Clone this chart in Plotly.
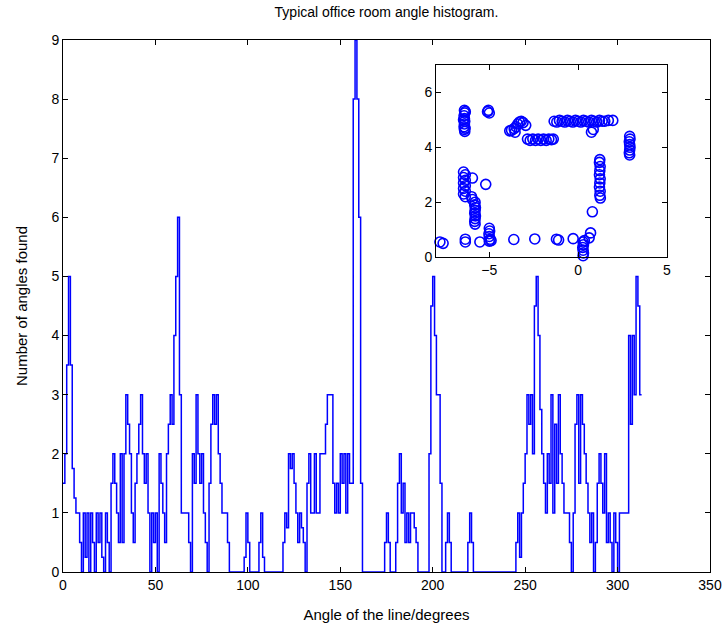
import numpy as np
import plotly.graph_objects as go

# Histogram counts, one value per 1-degree bin starting at 0 degrees
counts = [
    1.5, 2, 3.5, 5, 3.5, 1.75, 1.25, 1, 1, 0.5,
    0, 1, 0.25, 1, 0, 1, 0.5, 0, 1, 0.5,
    1, 0.25, 0, 1, 0.5, 0, 1.5, 2, 1.5, 1,
    0.5, 2, 0.5, 2, 3, 2.5, 2, 1, 0.5, 1.5,
    2, 2.5, 3, 2, 1.5, 2, 1, 0, 1, 0.5,
    1, 0, 2, 1.5, 1, 0.5, 2, 2.5, 3, 2.5,
    4, 5, 6, 3, 1, 1, 1, 1, 0.5, 0,
    2, 1.5, 3, 2, 1.5, 2, 1, 0.5, 0, 1.5,
    2.5, 3, 2.5, 3, 2, 1.5, 1, 1, 1, 0.5,
    0, 0, 0, 0, 0, 0, 0, 0, 0.25, 1,
    0.5, 0, 0, 0, 0, 0, 0.5, 1, 0.25, 0,
    0, 0, 0, 0, 0, 0, 0, 0, 0, 0.5,
    1, 0.75, 2, 1.75, 2, 1.5, 1, 0.5, 1, 0.75,
    0.5, 0, 1.5, 2, 1, 1, 2, 1, 1, 2,
    2, 2, 2.5, 3, 3, 3, 1.5, 1, 1.5, 1,
    2, 1.5, 2, 1, 2, 1.5, 1.5, 8, 9, 8,
    6, 1.5, 0, 0, 0, 0, 0, 0, 0, 0,
    0, 0, 0, 0, 0.5, 1, 0.5, 0, 0, 0,
    0.5, 1.5, 2, 1, 1.5, 0.5, 1, 0.5, 1, 1,
    0.75, 0.5, 0, 0, 0, 0, 0, 0, 2, 4.5,
    5, 4, 3, 3, 1.5, 0, 0, 0.5, 1, 0.5,
    0, 0, 0, 0, 0, 0, 0, 0, 0, 0.5,
    1, 0.5, 0, 0, 0, 0, 0, 0, 0, 0,
    0, 0, 0, 0, 0, 0, 0, 0, 0, 0,
    0, 0, 0, 0, 0, 0.5, 1, 0.25, 1, 1.5,
    2, 3, 2.5, 3, 2, 4.5, 5, 4, 2.75, 2,
    1.5, 1, 2, 1.5, 3, 1, 2.5, 1.5, 3, 2,
    1.5, 1, 1, 1, 0.5, 0, 1, 2.5, 3, 1.5,
    3, 2.5, 2, 1.5, 1, 0.5, 1, 0, 0.5, 1.5,
    2, 1.5, 1, 2, 0.5, 1, 0.5, 0, 1, 0.5,
    0, 1, 1, 1, 1, 1, 4, 2.5, 4, 3,
    5, 4.5, 3,
]

# Inset scatter: detected line points (x, y)
inset_x = [
    -6.4, -6.38, -6.42, -6.4, -6.38, -6.4, -6.42, -6.4, -6.38, -6.35, -6.45, -6.36,
    -5.1, -5.0, -5.05,
    -3.85, -3.75, -3.6, -3.5, -3.4, -3.3, -3.2, -3.1, -2.95, -3.55,
    -2.85, -2.7, -2.55, -2.4, -2.25, -2.1, -1.95, -1.8, -1.65, -1.5, -1.4,
    -1.35, -1.2, -1.05, -0.9, -0.75, -0.6, -0.45, -0.3, -0.15, 0.0, 0.15, 0.3, 0.45,
    0.6, 0.75, 0.9, 1.05, 1.2, 1.35, 1.5, 0.75, 0.85, 1.7, 1.95,
    2.9, 2.92, 2.88, 2.9, 2.92, 2.9, 2.88, 2.9,
    1.22, 1.2, 1.24, 1.22, 1.2, 1.24, 1.22, 1.2, 1.24, 1.22, 1.25,
    0.8, 0.7, 0.62,
    0.28, 0.3, 0.26, 0.28, 0.3, 0.28, 0.35,
    -0.28, -1.22, -1.1, -2.44, -3.62,
    -5.0, -4.98, -5.02, -5.0, -4.95, -5.0, -4.9,
    -5.53, -6.35, -6.35, -7.78, -7.6,
    -6.45, -6.35, -6.45, -6.35, -6.45, -6.35, -6.45, -6.35, -6.45, -6.35,
    -5.95, -5.2,
    -5.8, -5.82, -5.78, -5.8, -5.82, -5.78, -5.8, -5.82, -5.8, -5.95, -6.0,
]
inset_y = [
    5.35, 5.25, 5.15, 5.05, 4.95, 4.85, 4.75, 4.65, 4.58, 5.3, 5.0, 4.7,
    5.3, 5.25, 5.35,
    4.6, 4.62, 4.68, 4.75, 4.85, 4.92, 4.95, 4.9, 4.8, 4.55,
    4.3, 4.25, 4.3, 4.25, 4.3, 4.25, 4.3, 4.25, 4.3, 4.28, 4.3,
    4.95, 4.92, 4.98, 4.95, 4.92, 4.98, 4.95, 4.92, 4.98, 4.95, 4.92, 4.98, 4.95,
    4.92, 4.98, 4.95, 4.92, 4.98, 4.95, 4.95, 4.55, 4.65, 4.98, 4.98,
    4.4, 4.3, 4.2, 4.1, 4.0, 3.9, 3.8, 3.72,
    3.55, 3.45, 3.3, 3.15, 3.0, 2.85, 2.7, 2.55, 2.4, 2.25, 2.15,
    1.65, 0.88, 0.7,
    0.55, 0.45, 0.35, 0.25, 0.15, 0.05, 0.6,
    0.67, 0.65, 0.62, 0.66, 0.64,
    1.05, 0.95, 0.85, 0.75, 0.65, 0.58, 0.6,
    0.55, 0.55, 0.65, 0.55, 0.5,
    3.1, 3.0, 2.9, 2.8, 2.7, 2.6, 2.5, 2.4, 2.3, 2.2,
    2.88, 2.65,
    2.0, 1.9, 1.8, 1.7, 1.6, 1.5, 1.4, 1.3, 1.2, 2.1, 2.2,
]

x_ticks = [0, 50, 100, 150, 200, 250, 300, 350]
y_ticks = list(range(0, 10))
inset_xticks = [-5, 0, 5]
inset_yticks = [0, 2, 4, 6]

edges = np.arange(len(counts) + 1)
yvals = counts + [counts[-1]]

FONT = "Arial, Liberation Sans, sans-serif"
BLUE = "#0000ff"

fig = go.Figure()
fig.add_trace(go.Scatter(
    x=edges, y=yvals, mode="lines", line=dict(color=BLUE, width=1.5, shape="hv"),
    xaxis="x", yaxis="y", showlegend=False, hoverinfo="skip"))
fig.add_trace(go.Scatter(
    x=inset_x, y=inset_y, mode="markers",
    marker=dict(symbol="circle-open", size=10, color=BLUE, line=dict(width=1.6, color=BLUE)),
    xaxis="x2", yaxis="y2", showlegend=False, cliponaxis=False))

axis_common = dict(showgrid=False, zeroline=False, showline=True, linecolor="black",
                   linewidth=1, mirror="ticks", ticks="inside", ticklen=5,
                   tickcolor="black", automargin=False,
                   tickfont=dict(family=FONT, size=14, color="black"))

fig.update_layout(
    width=725, height=630,
    margin=dict(l=63, r=15, t=40, b=58),
    paper_bgcolor="white", plot_bgcolor="white",
    font=dict(family=FONT, color="black"),
    title=dict(text="Typical office room angle histogram.", x=0.5, xref="paper", xanchor="center",
               y=1 - 12 / 630, yanchor="middle", font=dict(family=FONT, size=14)),
    xaxis=dict(domain=[0, 1], range=[0, 350], tickvals=x_ticks, anchor="y",
               title=dict(text="Angle of the line/degrees", font=dict(family=FONT, size=15), standoff=17),
               **axis_common),
    yaxis=dict(domain=[0, 1], range=[0, 9], tickvals=y_ticks, anchor="x",
               title=dict(text="Number of angles found", font=dict(family=FONT, size=15), standoff=20),
               **axis_common),
    xaxis2=dict(domain=[0.5765, 0.9335], range=[-8, 5], tickvals=inset_xticks, anchor="y2",
                **axis_common),
    yaxis2=dict(domain=[0.592, 0.953], range=[0, 7], tickvals=inset_yticks, anchor="x2",
                **axis_common),
)

fig.write_html("out.html")
